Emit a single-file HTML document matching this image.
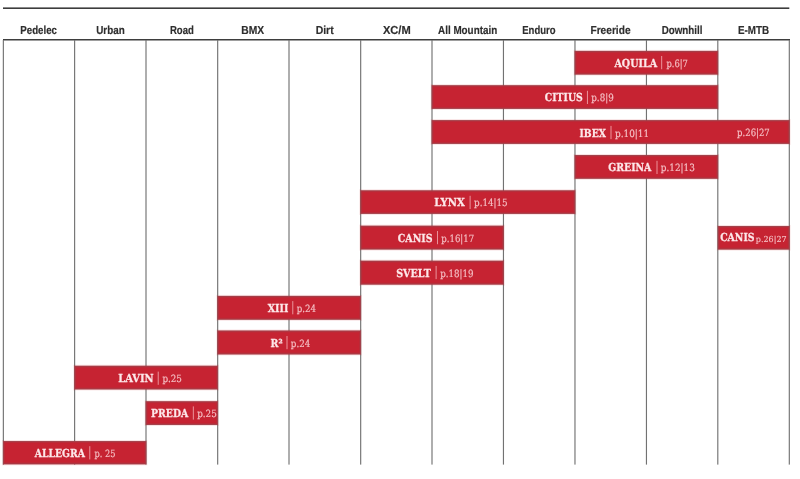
<!DOCTYPE html>
<html lang="en"><head><meta charset="utf-8"><title>Bike range overview</title>
<style>
html,body{margin:0;padding:0;background:#fff;}
body{width:800px;height:479px;overflow:hidden;position:relative;font-family:"Liberation Sans",sans-serif;}
svg{position:absolute;left:0;top:0;display:block}
.h{font-family:"Liberation Sans",sans-serif;font-weight:bold;font-size:11.6px;fill:#2e2e2e;stroke:#2e2e2e;stroke-width:0.18px}
.n{font-family:"DejaVu Serif","Liberation Serif",serif;font-weight:bold;font-size:11px;fill:#fde8ea;stroke:#fde8ea;stroke-width:0.25px}
.p{font-family:"DejaVu Serif","Liberation Serif",serif;font-size:10px;fill:#f5c0c5;stroke:#f5c0c5;stroke-width:0.15px}
.s{font-family:"DejaVu Serif","Liberation Serif",serif;font-size:8.2px;fill:#f5c0c5;stroke:#f5c0c5;stroke-width:0.12px}
</style></head><body>
<svg width="800" height="479" viewBox="0 0 800 479" text-rendering="geometricPrecision">

<rect x="3" y="7.4" width="786.3" height="1.6" fill="#3c3c3c"/>
<rect x="3" y="39" width="787" height="1.5" fill="#3e3e3e"/>
<rect x="2.78" y="40" width="1.14" height="424.6" fill="#727272"/>
<rect x="74.05" y="40" width="1.14" height="424.6" fill="#727272"/>
<rect x="145.43" y="40" width="1.14" height="424.6" fill="#727272"/>
<rect x="217.11" y="40" width="1.14" height="424.6" fill="#727272"/>
<rect x="288.43" y="40" width="1.14" height="424.6" fill="#727272"/>
<rect x="360.11" y="40" width="1.14" height="424.6" fill="#727272"/>
<rect x="431.43" y="40" width="1.14" height="424.6" fill="#727272"/>
<rect x="502.88" y="40" width="1.14" height="424.6" fill="#727272"/>
<rect x="574.40" y="40" width="1.14" height="424.6" fill="#727272"/>
<rect x="645.88" y="40" width="1.14" height="424.6" fill="#727272"/>
<rect x="717.23" y="40" width="1.14" height="424.6" fill="#727272"/>
<rect x="788.73" y="40" width="1.14" height="424.6" fill="#727272"/>
<rect x="574.67" y="50.90" width="143.43" height="23.70" fill="#c62332"/><rect x="575.17" y="51.40" width="142.43" height="22.70" fill="none" stroke="#6f6f6f" stroke-opacity="0.4" stroke-width="1"/><rect x="576.17" y="52.40" width="140.43" height="20.70" fill="none" stroke="#6f6f6f" stroke-opacity="0.13" stroke-width="1"/><rect x="574.17" y="50.40" width="144.43" height="24.70" fill="none" stroke="#c62332" stroke-opacity="0.13" stroke-width="1"/>
<rect x="661.25" y="56.00" width="0.9" height="13.2" fill="#efa0a7"/>
<rect x="431.70" y="85.20" width="286.40" height="23.70" fill="#c62332"/><rect x="432.20" y="85.70" width="285.40" height="22.70" fill="none" stroke="#6f6f6f" stroke-opacity="0.4" stroke-width="1"/><rect x="433.20" y="86.70" width="283.40" height="20.70" fill="none" stroke="#6f6f6f" stroke-opacity="0.13" stroke-width="1"/><rect x="431.20" y="84.70" width="287.40" height="24.70" fill="none" stroke="#c62332" stroke-opacity="0.13" stroke-width="1"/>
<rect x="586.95" y="90.80" width="0.9" height="13.2" fill="#efa0a7"/>
<rect x="431.70" y="120.10" width="357.90" height="23.80" fill="#c62332"/><rect x="432.20" y="120.60" width="356.90" height="22.80" fill="none" stroke="#6f6f6f" stroke-opacity="0.4" stroke-width="1"/><rect x="433.20" y="121.60" width="354.90" height="20.80" fill="none" stroke="#6f6f6f" stroke-opacity="0.13" stroke-width="1"/><rect x="431.20" y="119.60" width="358.90" height="24.80" fill="none" stroke="#c62332" stroke-opacity="0.13" stroke-width="1"/>
<rect x="610.55" y="125.90" width="0.9" height="13.2" fill="#efa0a7"/>
<rect x="574.67" y="155.00" width="143.43" height="23.80" fill="#c62332"/><rect x="575.17" y="155.50" width="142.43" height="22.80" fill="none" stroke="#6f6f6f" stroke-opacity="0.4" stroke-width="1"/><rect x="576.17" y="156.50" width="140.43" height="20.80" fill="none" stroke="#6f6f6f" stroke-opacity="0.13" stroke-width="1"/><rect x="574.17" y="154.50" width="144.43" height="24.80" fill="none" stroke="#c62332" stroke-opacity="0.13" stroke-width="1"/>
<rect x="656.55" y="160.80" width="0.9" height="13.2" fill="#efa0a7"/>
<rect x="360.38" y="190.30" width="214.89" height="23.60" fill="#c62332"/><rect x="360.88" y="190.80" width="213.89" height="22.60" fill="none" stroke="#6f6f6f" stroke-opacity="0.4" stroke-width="1"/><rect x="361.88" y="191.80" width="211.89" height="20.60" fill="none" stroke="#6f6f6f" stroke-opacity="0.13" stroke-width="1"/><rect x="359.88" y="189.80" width="215.89" height="24.60" fill="none" stroke="#c62332" stroke-opacity="0.13" stroke-width="1"/>
<rect x="469.65" y="195.80" width="0.9" height="13.2" fill="#efa0a7"/>
<rect x="360.38" y="225.70" width="143.37" height="23.85" fill="#c62332"/><rect x="360.88" y="226.20" width="142.37" height="22.85" fill="none" stroke="#6f6f6f" stroke-opacity="0.4" stroke-width="1"/><rect x="361.88" y="227.20" width="140.37" height="20.85" fill="none" stroke="#6f6f6f" stroke-opacity="0.13" stroke-width="1"/><rect x="359.88" y="225.20" width="144.37" height="24.85" fill="none" stroke="#c62332" stroke-opacity="0.13" stroke-width="1"/>
<rect x="437.05" y="231.00" width="0.9" height="13.2" fill="#efa0a7"/>
<rect x="360.38" y="260.70" width="143.37" height="23.95" fill="#c62332"/><rect x="360.88" y="261.20" width="142.37" height="22.95" fill="none" stroke="#6f6f6f" stroke-opacity="0.4" stroke-width="1"/><rect x="361.88" y="262.20" width="140.37" height="20.95" fill="none" stroke="#6f6f6f" stroke-opacity="0.13" stroke-width="1"/><rect x="359.88" y="260.20" width="144.37" height="24.95" fill="none" stroke="#c62332" stroke-opacity="0.13" stroke-width="1"/>
<rect x="435.65" y="265.90" width="0.9" height="13.2" fill="#efa0a7"/>
<rect x="217.38" y="295.90" width="143.60" height="23.85" fill="#c62332"/><rect x="217.88" y="296.40" width="142.60" height="22.85" fill="none" stroke="#6f6f6f" stroke-opacity="0.4" stroke-width="1"/><rect x="218.88" y="297.40" width="140.60" height="20.85" fill="none" stroke="#6f6f6f" stroke-opacity="0.13" stroke-width="1"/><rect x="216.88" y="295.40" width="144.60" height="24.85" fill="none" stroke="#c62332" stroke-opacity="0.13" stroke-width="1"/>
<rect x="292.35" y="301.10" width="0.9" height="13.2" fill="#efa0a7"/>
<rect x="217.38" y="330.50" width="143.60" height="23.95" fill="#c62332"/><rect x="217.88" y="331.00" width="142.60" height="22.95" fill="none" stroke="#6f6f6f" stroke-opacity="0.4" stroke-width="1"/><rect x="218.88" y="332.00" width="140.60" height="20.95" fill="none" stroke="#6f6f6f" stroke-opacity="0.13" stroke-width="1"/><rect x="216.88" y="330.00" width="144.60" height="24.95" fill="none" stroke="#c62332" stroke-opacity="0.13" stroke-width="1"/>
<rect x="286.55" y="336.00" width="0.9" height="13.2" fill="#efa0a7"/>
<rect x="74.32" y="365.75" width="143.66" height="23.70" fill="#c62332"/><rect x="74.82" y="366.25" width="142.66" height="22.70" fill="none" stroke="#6f6f6f" stroke-opacity="0.4" stroke-width="1"/><rect x="75.82" y="367.25" width="140.66" height="20.70" fill="none" stroke="#6f6f6f" stroke-opacity="0.13" stroke-width="1"/><rect x="73.82" y="365.25" width="144.66" height="24.70" fill="none" stroke="#c62332" stroke-opacity="0.13" stroke-width="1"/>
<rect x="157.75" y="371.60" width="0.9" height="13.2" fill="#efa0a7"/>
<rect x="145.70" y="401.20" width="72.28" height="23.75" fill="#c62332"/><rect x="146.20" y="401.70" width="71.28" height="22.75" fill="none" stroke="#6f6f6f" stroke-opacity="0.4" stroke-width="1"/><rect x="147.20" y="402.70" width="69.28" height="20.75" fill="none" stroke="#6f6f6f" stroke-opacity="0.13" stroke-width="1"/><rect x="145.20" y="400.70" width="73.28" height="24.75" fill="none" stroke="#c62332" stroke-opacity="0.13" stroke-width="1"/>
<rect x="192.85" y="406.40" width="0.9" height="13.2" fill="#efa0a7"/>
<rect x="3.05" y="441.05" width="143.25" height="23.30" fill="#c62332"/><rect x="3.55" y="441.55" width="142.25" height="22.30" fill="none" stroke="#6f6f6f" stroke-opacity="0.4" stroke-width="1"/><rect x="4.55" y="442.55" width="140.25" height="20.30" fill="none" stroke="#6f6f6f" stroke-opacity="0.13" stroke-width="1"/><rect x="2.55" y="440.55" width="144.25" height="24.30" fill="none" stroke="#c62332" stroke-opacity="0.13" stroke-width="1"/>
<rect x="89.35" y="446.20" width="0.9" height="13.2" fill="#efa0a7"/>
<rect x="717.80" y="226.00" width="71.80" height="23.60" fill="#c62332"/><rect x="718.30" y="226.50" width="70.80" height="22.60" fill="none" stroke="#6f6f6f" stroke-opacity="0.4" stroke-width="1"/><rect x="719.30" y="227.50" width="68.80" height="20.60" fill="none" stroke="#6f6f6f" stroke-opacity="0.13" stroke-width="1"/><rect x="717.30" y="225.50" width="72.80" height="24.60" fill="none" stroke="#c62332" stroke-opacity="0.13" stroke-width="1"/>
<g style="will-change:transform">
<text id="h0" class="h" x="20.29" y="34.00" textLength="36.68" lengthAdjust="spacingAndGlyphs">Pedelec</text>
<text id="h1" class="h" x="96.23" y="34.00" textLength="28.46" lengthAdjust="spacingAndGlyphs">Urban</text>
<text id="h2" class="h" x="169.93" y="34.00" textLength="23.95" lengthAdjust="spacingAndGlyphs">Road</text>
<text id="h3" class="h" x="241.35" y="34.00" textLength="22.85" lengthAdjust="spacingAndGlyphs">BMX</text>
<text id="h4" class="h" x="315.64" y="34.00" textLength="17.98" lengthAdjust="spacingAndGlyphs">Dirt</text>
<text id="h5" class="h" x="382.89" y="34.00" textLength="27.82" lengthAdjust="spacingAndGlyphs">XC/M</text>
<text id="h6" class="h" x="438.09" y="34.00" textLength="59.09" lengthAdjust="spacingAndGlyphs">All Mountain</text>
<text id="h7" class="h" x="522.25" y="34.00" textLength="33.29" lengthAdjust="spacingAndGlyphs">Enduro</text>
<text id="h8" class="h" x="590.45" y="34.00" textLength="40.10" lengthAdjust="spacingAndGlyphs">Freeride</text>
<text id="h9" class="h" x="661.69" y="34.00" textLength="40.80" lengthAdjust="spacingAndGlyphs">Downhill</text>
<text id="h10" class="h" x="738.03" y="34.00" textLength="31.15" lengthAdjust="spacingAndGlyphs">E-MTB</text>
<text id="n0" class="n" x="614.47" y="66.60" textLength="42.56" lengthAdjust="spacingAndGlyphs">AQUILA</text>
<text id="p0" class="p" x="666.42" y="66.60" textLength="21.48" lengthAdjust="spacingAndGlyphs">p.6|7</text>
<text id="n1" class="n" x="544.83" y="101.40" textLength="37.93" lengthAdjust="spacingAndGlyphs">CITIUS</text>
<text id="p1" class="p" x="591.28" y="101.40" textLength="22.43" lengthAdjust="spacingAndGlyphs">p.8|9</text>
<text id="n2" class="n" x="579.54" y="136.50" textLength="26.46" lengthAdjust="spacingAndGlyphs">IBEX</text>
<text id="p2" class="p" x="614.93" y="136.50" textLength="34.30" lengthAdjust="spacingAndGlyphs">p.10|11</text>
<text id="n3" class="n" x="608.34" y="171.40" textLength="43.01" lengthAdjust="spacingAndGlyphs">GREINA</text>
<text id="p3" class="p" x="660.85" y="171.40" textLength="34.00" lengthAdjust="spacingAndGlyphs">p.12|13</text>
<text id="n4" class="n" x="434.17" y="206.40" textLength="30.68" lengthAdjust="spacingAndGlyphs">LYNX</text>
<text id="p4" class="p" x="474.10" y="206.40" textLength="33.57" lengthAdjust="spacingAndGlyphs">p.14|15</text>
<text id="n5" class="n" x="397.83" y="241.60" textLength="34.75" lengthAdjust="spacingAndGlyphs">CANIS</text>
<text id="p5" class="p" x="441.24" y="241.60" textLength="32.90" lengthAdjust="spacingAndGlyphs">p.16|17</text>
<text id="n6" class="n" x="396.21" y="276.50" textLength="34.73" lengthAdjust="spacingAndGlyphs">SVELT</text>
<text id="p6" class="p" x="440.21" y="276.50" textLength="33.39" lengthAdjust="spacingAndGlyphs">p.18|19</text>
<text id="n7" class="n" x="267.78" y="311.70" textLength="20.54" lengthAdjust="spacingAndGlyphs">XIII</text>
<text id="p7" class="p" x="296.73" y="311.70" textLength="19.21" lengthAdjust="spacingAndGlyphs">p.24</text>
<text id="n8" class="n" x="270.52" y="346.60" textLength="12.06" lengthAdjust="spacingAndGlyphs">R²</text>
<text id="p8" class="p" x="290.87" y="346.60" textLength="19.48" lengthAdjust="spacingAndGlyphs">p.24</text>
<text id="n9" class="n" x="118.25" y="382.20" textLength="35.37" lengthAdjust="spacingAndGlyphs">LAVIN</text>
<text id="p9" class="p" x="162.40" y="382.20" textLength="19.54" lengthAdjust="spacingAndGlyphs">p.25</text>
<text id="n10" class="n" x="151.10" y="417.00" textLength="37.15" lengthAdjust="spacingAndGlyphs">PREDA</text>
<text id="p10" class="p" x="197.14" y="417.00" textLength="19.60" lengthAdjust="spacingAndGlyphs">p.25</text>
<text id="n11" class="n" x="34.71" y="456.80" textLength="50.17" lengthAdjust="spacingAndGlyphs">ALLEGRA</text>
<text id="p11" class="p" x="94.51" y="456.80" textLength="20.91" lengthAdjust="spacingAndGlyphs">p. 25</text>
<text id="p12" class="p" x="737.11" y="136.30" textLength="32.60" lengthAdjust="spacingAndGlyphs">p.26|27</text>
<text id="n13" class="n" x="720.18" y="240.90" textLength="34.34" lengthAdjust="spacingAndGlyphs">CANIS</text>
<text id="p13" class="s" x="755.85" y="241.60" textLength="30.78" lengthAdjust="spacingAndGlyphs">p.26|27</text>
</g>
</svg></body></html>
